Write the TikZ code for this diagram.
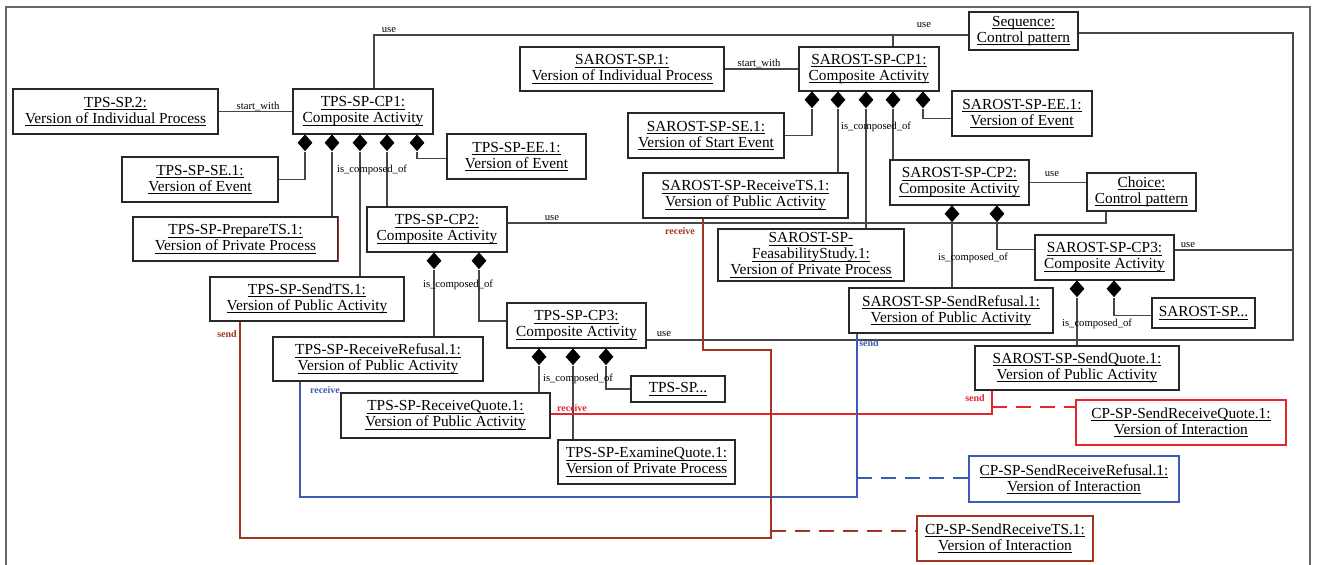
\documentclass[tikz,border=0pt]{standalone}
\usepackage{fontspec}
\setmainfont{Liberation Serif}
\usetikzlibrary{shapes.geometric}
\definecolor{brownred}{RGB}{163,52,36}
\definecolor{flowred}{RGB}{232,36,44}
\definecolor{flowblue}{RGB}{58,92,178}
\definecolor{boxgray}{RGB}{40,40,40}
\definecolor{linegray}{RGB}{70,70,70}
\newcommand\ulx[1]{\setbox0=\hbox{#1}\rlap{\rule[-1.9pt]{\wd0}{0.55pt}}\box0}
\newcommand{\bx}[7][]{\node[box,#1,minimum width={(#5-#3)*0.75pt},minimum height={(#6-#4)*0.75pt}] (#2) at ({(#3+#5)/2},{(#4+#6)/2}) {#7};}
\tikzset{
  box/.style={draw=boxgray, line width=1.05pt, inner sep=0pt, align=center, font=\fontsize{11.5}{12}\selectfont},
  lab/.style={font=\fontsize{8}{8}\selectfont, inner sep=0pt},
  flowlab/.style={font=\bfseries\fontsize{7.5}{8}\selectfont, inner sep=0pt},
  dia/.style={diamond, fill=black, inner sep=0pt, minimum width=11.25pt, minimum height=12.75pt, anchor=north},
  conn/.style={draw=linegray, line width=0.8pt},
  flow/.style={line width=1.3pt},
  dashflow/.style={line width=1.3pt, dash pattern=on 11pt off 7pt}
}
\begin{document}
\begin{tikzpicture}[x=0.75pt,y=-0.75pt]
\useasboundingbox (0,0) rectangle (1317,564);
% frame
\draw[draw=black!60, line width=0.9pt] (6,580) -- (6,7) -- (1310,7) -- (1310,580);

% ---------- boxes ----------
\bx{tps2}{13}{89}{218}{134}{\ulx{TPS-SP.2:}\\\ulx{Version of Individual Process}}
\bx{tcp1}{293}{89}{433}{134}{\ulx{TPS-SP-CP1:}\\\ulx{Composite Activity}}
\bx{tse1}{122}{157}{278}{202}{\ulx{TPS-SP-SE.1:}\\\ulx{Version of Event}}
\bx{tprep}{133}{217}{338}{261}{\ulx{TPS-SP-PrepareTS.1:}\\\ulx{Version of Private Process}}
\bx{tsend}{210}{277}{404}{321}{\ulx{TPS-SP-SendTS.1:}\\\ulx{Version of Public Activity}}
\bx{tcp2}{367}{207}{507}{252}{\ulx{TPS-SP-CP2:}\\\ulx{Composite Activity}}
\bx{tee1}{447}{134}{586}{179}{\ulx{TPS-SP-EE.1:}\\\ulx{Version of Event}}
\bx{trref}{273}{337}{483}{381}{\ulx{TPS-SP-ReceiveRefusal.1:}\\\ulx{Version of Public Activity}}
\bx{tcp3}{507}{303}{646}{348}{\ulx{TPS-SP-CP3:}\\\ulx{Composite Activity}}
\bx{trq}{341}{393}{550}{438}{\ulx{TPS-SP-ReceiveQuote.1:}\\\ulx{Version of Public Activity}}
\bx{teq}{558}{440}{735}{484}{\ulx{TPS-SP-ExamineQuote.1:}\\\ulx{Version of Private Process}}
\bx{tdots}{631}{376}{725}{402}{\ulx{TPS-SP...}}
\bx{ssp1}{520}{47}{724}{91}{\ulx{SAROST-SP.1:}\\\ulx{Version of Individual Process}}
\bx{scp1}{799}{47}{939}{91}{\ulx{SAROST-SP-CP1:}\\\ulx{Composite Activity}}
\bx{sse1}{628}{113}{784}{158}{\ulx{SAROST-SP-SE.1:}\\\ulx{Version of Start Event}}
\bx{srts}{643}{173}{848}{218}{\ulx{SAROST-SP-ReceiveTS.1:}\\\ulx{Version of Public Activity}}
\bx{sfeas}{718}{229}{904}{281}{\ulx{SAROST-SP-}\\\ulx{FeasabilityStudy.1:}\\\ulx{Version of Private Process}}
\bx{scp2}{890}{160}{1029}{205}{\ulx{SAROST-SP-CP2:}\\\ulx{Composite Activity}}
\bx{see1}{952}{91}{1092}{136}{\ulx{SAROST-SP-EE.1:}\\\ulx{Version of Event}}
\bx{seq}{969}{12}{1078}{50}{\ulx{Sequence:}\\\ulx{Control pattern}}
\bx{choice}{1087}{173}{1196}{211}{\ulx{Choice:}\\\ulx{Control pattern}}
\bx{ssref}{849}{288}{1053}{333}{\ulx{SAROST-SP-SendRefusal.1:}\\\ulx{Version of Public Activity}}
\bx{scp3}{1035}{235}{1174}{280}{\ulx{SAROST-SP-CP3:}\\\ulx{Composite Activity}}
\bx{ssq}{975}{346}{1179}{390}{\ulx{SAROST-SP-SendQuote.1:}\\\ulx{Version of Public Activity}}
\bx{sdots}{1152}{298}{1255}{328}{\ulx{SAROST-SP...}}
\bx[draw=flowred,line width=1.3pt]{cpq}{1076}{400}{1286}{445}{\ulx{CP-SP-SendReceiveQuote.1:}\\\ulx{Version of Interaction}}
\bx[draw=flowblue,line width=1.3pt]{cpr}{969}{456}{1179}{502}{\ulx{CP-SP-SendReceiveRefusal.1:}\\\ulx{Version of Interaction}}
\bx[draw=brownred,line width=1.3pt]{cpt}{917}{516}{1093}{561}{\ulx{CP-SP-SendReceiveTS.1:}\\\ulx{Version of Interaction}}
\draw[brownred, line width=1.05pt] (tprep.north east) -- (tprep.south east);

% ---------- diamonds ----------
\node[dia] (ta1) at (305,134) {};
\node[dia] (ta2) at (332,134) {};
\node[dia] (ta3) at (360,134) {};
\node[dia] (ta4) at (387,134) {};
\node[dia] (ta5) at (417,134) {};
\node[dia] (tb1) at (434,252) {};
\node[dia] (tb2) at (479,252) {};
\node[dia] (tc1) at (539,348) {};
\node[dia] (tc2) at (573,348) {};
\node[dia] (tc3) at (606,348) {};
\node[dia] (sa1) at (812,91) {};
\node[dia] (sa2) at (838,91) {};
\node[dia] (sa3) at (866,91) {};
\node[dia] (sa4) at (893,91) {};
\node[dia] (sa5) at (923,91) {};
\node[dia] (sb1) at (952,205) {};
\node[dia] (sb2) at (997,205) {};
\node[dia] (sc1) at (1077,280) {};
\node[dia] (sc2) at (1114,280) {};

% ---------- composition links ----------
\draw[conn] (ta1.south) |- ([yshift=0pt]tse1.east);
\draw[conn] (ta2.south) -- (ta2.south |- tprep.north);
\draw[conn] (ta3.south) -- (ta3.south |- tsend.north);
\draw[conn] (ta4.south) -- (ta4.south |- tcp2.north);
\draw[conn] (ta5.south) |- ([yshift=-1.8pt]tee1.west);
\draw[conn] (tb1.south) -- (tb1.south |- trref.north);
\draw[conn] (tb2.south) |- ([yshift=3.4pt]tcp3.west);
\draw[conn] (tc1.south) -- (tc1.south |- trq.north);
\draw[conn] (tc2.south) -- (tc2.south |- teq.north);
\draw[conn] (tc3.south) |- (tdots.west);
\draw[conn] (sa1.south) |- (sse1.east);
\draw[conn] (sa2.south) -- (sa2.south |- srts.north);
\draw[conn] (sa3.south) -- (sa3.south |- sfeas.north);
\draw[conn] (sa4.south) -- (sa4.south |- scp2.north);
\draw[conn] (sa5.south) |- ([yshift=-4pt]see1.west);
\draw[conn] (sb1.south) -- (sb1.south |- ssref.north);
\draw[conn] (sb2.south) |- ([yshift=6pt]scp3.west);
\draw[conn] (sc1.south) -- (sc1.south |- ssq.north);
\draw[conn] (sc2.south) |- ([yshift=-2pt]sdots.west);

% ---------- start_with / use ----------
\draw[conn] (tps2) -- (tcp1);
\draw[conn] (ssp1) -- (scp1);
\coordinate (us1) at (374,35);
\coordinate (us2) at (893,35);
\draw[conn] (us1 |- tcp1.north) -- (us1) -- (us1 -| seq.west);
\draw[conn] (us2 |- scp1.north) -- (us2);
\coordinate (sq1) at (1293,33);
\coordinate (sq2) at (1293,340);
\coordinate (sq3) at (1293,250);
\draw[conn] (sq1 -| seq.east) -- (sq1) -- (sq2) -- (sq2 -| tcp3.east);
\draw[conn] (sq3 -| scp3.east) -- (sq3);
\coordinate (ch1) at (1106,223);
\draw[conn] (ch1 -| tcp2.east) -- (ch1) -- (ch1 |- choice.south);
\draw[conn] (scp2.east) -- (scp2.east -| choice.west);

% ---------- labels ----------
\node[lab] (l1) at (258,106) {start\_with};
\node[lab] (l2) at (759,63) {start\_with};
\node[lab] (l3) at (389,30) {use};
\node[lab] (l4) at (924,25) {use};
\node[lab] (l5) at (552,218) {use};
\node[lab] (l6) at (1052,174) {use};
\node[lab] (l7) at (1188,245) {use};
\node[lab] (l8) at (664,334) {use};
\node[lab] (c1) at (372,170) {is\_composed\_of};
\node[lab] (c2) at (458,285) {is\_composed\_of};
\node[lab] (c3) at (578,379) {is\_composed\_of};
\node[lab] (c4) at (876,127) {is\_composed\_of};
\node[lab] (c5) at (973,258) {is\_composed\_of};
\node[lab] (c6) at (1097,324) {is\_composed\_of};

% ---------- flows ----------
% red (quote)
\coordinate (rq) at (992,414);
\coordinate (rqd) at (992,407);
\draw[flow, flowred] (rq |- ssq.south) -- (rq) -- (rq -| trq.east);
\draw[dashflow, flowred] (rqd) -- (rqd -| cpq.west);
\node[flowlab, text=flowred] (f1) at (975,398) {send};
\node[flowlab, text=flowred] (f2) at (572,408) {receive};
% blue (refusal)
\coordinate (bl1) at (857,497);
\coordinate (bl2) at (300,497);
\coordinate (bld) at (857,478);
\draw[flow, flowblue] (bl1 |- ssref.south) -- (bl1) -- (bl2) -- (bl2 |- trref.south);
\draw[dashflow, flowblue] (bld) -- (bld -| cpr.west);
\node[flowlab, text=flowblue] (f3) at (869,343) {send};
\node[flowlab, text=flowblue] (f4) at (325,390) {receive};
% brown (TS)
\coordinate (br1) at (703,350);
\coordinate (br2) at (771,350);
\coordinate (br3) at (771,538);
\coordinate (br4) at (240,538);
\coordinate (brd) at (771,531);
\draw[flow, brownred] (br1 |- srts.south) -- (br1) -- (br2) -- (br3) -- (br4) -- (br4 |- tsend.south);
\draw[dashflow, brownred] (brd) -- (brd -| cpt.west);
\node[flowlab, text=brownred] (f5) at (680,231) {receive};
\node[flowlab, text=brownred] (f6) at (227,334) {send};
\end{tikzpicture}
\end{document}
